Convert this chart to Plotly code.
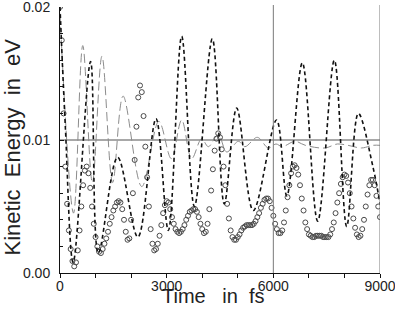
import plotly.graph_objects as go

# ---- data ----
# black short-dashed series: turning points (time fs, energy eV)
a_t = [0, 150, 370, 860, 1078, 1620, 2190, 2700, 3047, 3422, 3780, 4284, 4620,
       4969, 5437, 6090, 6380, 6816, 7247, 7716, 8063, 8391, 8800, 9000]
a_E = [0.0200, 0.0110, 0.0008, 0.0159, 0.0015, 0.0087, 0.0027, 0.0116, 0.0032,
       0.0178, 0.0050, 0.0176, 0.0052, 0.0124, 0.0047, 0.0115, 0.0058, 0.0158,
       0.0039, 0.0160, 0.0035, 0.0120, 0.0080, 0.0052]

# grey long-dashed series: turning points
b_t = [0, 380, 640, 910, 1180, 1480, 1775, 2300, 2780, 3130, 3422, 3703, 3984,
       4172, 4453, 4688, 5016, 5203, 5550, 5859, 6075, 6250, 6609, 6900, 7450,
       7800, 8100, 8480, 8800, 9000]
b_E = [0.0195, 0.0045, 0.0171, 0.0068, 0.0163, 0.0068, 0.0133, 0.0065, 0.0114,
       0.0086, 0.0115, 0.0086, 0.0101, 0.0095, 0.0104, 0.0091, 0.0099, 0.0095,
       0.0102, 0.0094, 0.0097, 0.0095, 0.0099, 0.0096, 0.0094, 0.0097, 0.0096,
       0.0094, 0.0096, 0.0096]

# circle series, read every 50 fs
c_t = list(range(0, 9001, 50))
c_E = [
    0.0200, 0.0175, 0.0120, 0.0080, 0.0052, 0.0032, 0.0018, 0.0009, 0.0005, 0.0008,
    0.0017, 0.0032, 0.0050, 0.0066, 0.0077, 0.0080, 0.0075, 0.0064, 0.0050, 0.0037,
    0.0027, 0.0020, 0.0016, 0.0015, 0.0018, 0.0022, 0.0026, 0.0031, 0.0037, 0.0042,
    0.0047, 0.0050, 0.0053, 0.0054, 0.0053, 0.0048, 0.0040, 0.0031, 0.0025, 0.0026,
    0.0040, 0.0060, 0.0085, 0.0110, 0.0132, 0.0141, 0.0136, 0.0118, 0.0095, 0.0072,
    0.0050, 0.0033, 0.0022, 0.0017, 0.0018, 0.0022, 0.0028, 0.0036, 0.0045, 0.0051,
    0.0054, 0.0053, 0.0048, 0.0042, 0.0037, 0.0033, 0.0031, 0.0030, 0.0031, 0.0033,
    0.0036, 0.0040, 0.0043, 0.0046, 0.0047, 0.0048, 0.0048, 0.0046, 0.0042, 0.0037,
    0.0033, 0.0030, 0.0031, 0.0037, 0.0048, 0.0062, 0.0078, 0.0092, 0.0101, 0.0105,
    0.0102, 0.0093, 0.0080, 0.0066, 0.0052, 0.0041, 0.0032, 0.0027, 0.0025, 0.0025,
    0.0027, 0.0029, 0.0032, 0.0034, 0.0035, 0.0036, 0.0036, 0.0036, 0.0036, 0.0037,
    0.0039, 0.0042, 0.0045, 0.0049, 0.0052, 0.0055, 0.0056, 0.0056, 0.0054, 0.0049,
    0.0043, 0.0037, 0.0033, 0.0030, 0.0030, 0.0032, 0.0038, 0.0047, 0.0057, 0.0066,
    0.0075, 0.0080, 0.0081, 0.0079, 0.0074, 0.0066, 0.0056, 0.0047, 0.0038, 0.0033,
    0.0029, 0.0028, 0.0027, 0.0027, 0.0028, 0.0028, 0.0028, 0.0028, 0.0027, 0.0027,
    0.0027, 0.0027, 0.0029, 0.0033, 0.0038, 0.0045, 0.0053, 0.0060, 0.0067, 0.0072,
    0.0074, 0.0073, 0.0068, 0.0060, 0.0050, 0.0041, 0.0034, 0.0029, 0.0027, 0.0028,
    0.0033, 0.0040, 0.0050, 0.0059, 0.0066, 0.0070, 0.0070, 0.0066, 0.0058, 0.0050,
    0.0042]

# reference level
ref_t = [0, 9000]
ref_E = [0.01, 0.01]
vlines = [6000, 9000]

x_ticks = [0, 3000, 6000, 9000]
y_ticks = [0.0, 0.01, 0.02]
y_labels = ["0.00", "0.01", "0.02"]

fig = go.Figure()
fig.add_trace(go.Scatter(x=ref_t, y=ref_E, mode="lines",
                         line=dict(color="#a8a8a8", width=2), hoverinfo="skip"))
fig.add_trace(go.Scatter(x=b_t, y=b_E, mode="lines",
                         line=dict(color="#8c8c8c", width=1, dash="9px,4px",
                                   shape="spline", smoothing=1.0)))
fig.add_trace(go.Scatter(x=c_t[:len(c_E)], y=c_E, mode="markers",
                         marker=dict(symbol="circle-open", size=5,
                                     color="#4a4a4a", line=dict(width=1, color="#4a4a4a"))))
fig.add_trace(go.Scatter(x=a_t, y=a_E, mode="lines",
                         line=dict(color="#111111", width=1.6, dash="4px,3px",
                                   shape="spline", smoothing=1.0)))

for v in vlines:
    fig.add_shape(type="line", xref="x", yref="paper", x0=v, x1=v, y0=0, y1=1.0075,
                  line=dict(color="#7a7a7a", width=1))

font = "Liberation Sans, Arial, sans-serif"
fig.update_layout(
    width=395, height=309,
    margin=dict(l=60, r=15, t=7, b=36),
    paper_bgcolor="white", plot_bgcolor="white",
    showlegend=False,
    font=dict(family=font, size=14, color="#222222"),
    xaxis=dict(range=[0, 9000], tickvals=x_ticks, ticktext=[str(v) for v in x_ticks],
               automargin=False,
               showgrid=False, zeroline=False, showline=True, linecolor="#111111",
               linewidth=1, ticks="outside", ticklen=4, tickcolor="#111111",
               minor=dict(dtick=1000, ticks="outside", ticklen=4, tickcolor="#111111"),
               tickfont=dict(size=14), ticklabeloverflow="allow", ticklabelstandoff=-4),
    yaxis=dict(range=[0, 0.02], tickvals=y_ticks, ticktext=y_labels,
               automargin=False,
               showgrid=False, zeroline=False, showline=True, linecolor="#111111",
               linewidth=1, ticks="inside", ticklen=4, tickcolor="#111111",
               minor=dict(dtick=0.002, ticks="inside", ticklen=3, tickcolor="#111111"),
               tickfont=dict(size=14), ticklabelstandoff=6, ticklabeloverflow="allow"),
    annotations=[
        dict(text="Time\u00a0\u00a0 in\u00a0 fs", xref="paper", yref="paper",
             x=0.48, y=-0.1353, xanchor="center", yanchor="bottom", showarrow=False,
             font=dict(family=font, size=20, color="#222222")),
        dict(text="Kinetic\u00a0 Energy\u00a0 in\u00a0 eV", xref="paper", yref="paper",
             x=0, xshift=-48, y=0.472, xanchor="center", yanchor="middle",
             textangle=-90, showarrow=False,
             font=dict(family=font, size=22, color="#222222")),
    ],
)

fig.write_html("out.html", config={"displayModeBar": False},
               post_script="document.body.style.margin='0';document.body.style.overflow='hidden';")
